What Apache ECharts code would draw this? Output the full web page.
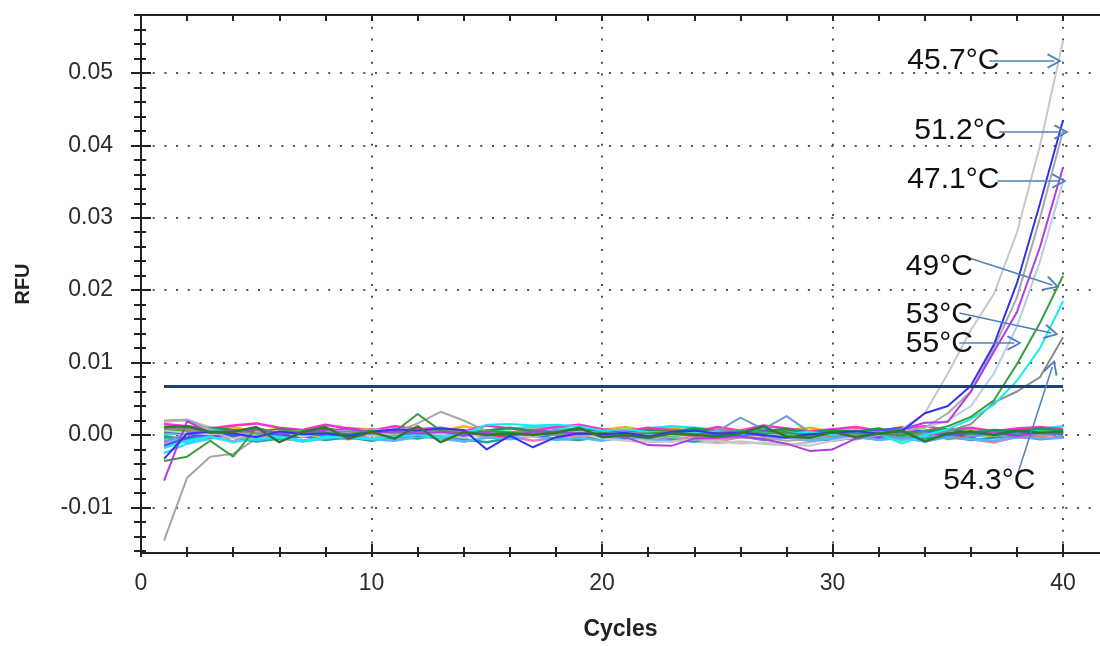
<!DOCTYPE html>
<html>
<head>
    <meta charset="UTF-8">
    <title>RFU - Cycles</title>
    <script src="https://cdn.jsdelivr.net/npm/echarts@6/dist/echarts.min.js"></script>
    <style>
        html, body { margin: 0; padding: 0; background: #fff; }
        #main { width: 1100px; height: 646px; }
    </style>
</head>
<body>
<div id="main"></div>
<script type="text/javascript">

    // x categories (cycle numbers)
    var cycles = [1, 2, 3, 4, 5, 6, 7, 8, 9, 10, 11, 12, 13, 14, 15, 16, 17, 18, 19, 20,
        21, 22, 23, 24, 25, 26, 27, 28, 29, 30, 31, 32, 33, 34, 35, 36, 37, 38, 39, 40];

    // axis tick labels
    var xMajorTicks = [0, 10, 20, 30, 40];
    var yMajorTicks = [-0.01, 0, 0.01, 0.02, 0.03, 0.04, 0.05];

    // threshold (RFU)
    var thresholdRFU = 0.0067;

    // curves, values in mRFU (1/1000 RFU)
    // amplifying wells
    var amp457 = [1.8, 2.0, 0.5, -0.5, 0.2, 0.6, -0.3, 0.5, 0.8, -0.2,
        0.4, 0.3, 0.1, -0.4, 0.2, 0.0, -0.3, 0.4, 0.2, -0.5,
        -0.8, -1.0, -0.9, -0.6, -0.8, -1.2, -1.0, -1.3, -1.5, -0.8,
        -0.3, 0.0, 0.8, 3.0, 8.5, 14.5, 19.5, 28.0, 40.0, 54.5];
    var ampGray = [2.0, 2.1, 0.8, -1.0, 0.5, 0.3, 0.6, 0.2, 0.4, 0.9,
        0.3, 1.6, 3.2, 2.0, 0.5, 0.2, 0.0, 0.4, -0.2, 0.3,
        0.1, -0.4, -0.3, -0.5, -0.6, -0.3, -0.4, -0.8, -0.6, 0.2,
        0.1, 0.3, 0.5, 1.0, 3.0, 6.0, 12.0, 19.0, 30.0, 42.0];
    var amp512 = [-3.3, 0.2, 0.4, 0.2, -0.3, 0.5, 0.1, 0.2, -0.1, 0.4,
        0.8, 0.6, 0.9, 0.7, -2.0, -0.1, -1.7, -0.3, 0.2, 0.1,
        0.3, -0.2, 0.4, 0.6, 0.2, 0.3, 0.0, -0.4, 0.1, 0.3,
        0.5, 0.2, 0.5, 3.0, 4.0, 6.8, 12.5, 21.0, 32.0, 43.5];
    var amp471 = [-6.3, 1.9, 0.3, 0.5, 0.8, 0.2, 0.4, 0.6, 0.9, 0.3,
        0.5, 0.2, 0.4, 0.1, 0.3, -0.2, 0.5, 0.4, 0.2, 0.1,
        -0.3, -1.4, -1.5, -0.5, -0.4, -0.2, -0.6, -1.2, -2.2, -2.0,
        -0.5, 0.2, 0.8, 1.7, 1.8, 6.0, 11.5, 17.0, 26.0, 37.0];
    var amp55 = [0.6, 0.3, 0.1, 0.4, 0.2, 0.5, 0.0, 0.3, 0.6, 0.2,
        0.1, 0.4, 0.3, 0.2, 0.5, 0.1, 0.3, 0.0, 0.4, 0.2,
        0.3, 0.1, 0.0, 0.2, 0.4, 0.3, 0.1, 0.2, -0.3, 0.1,
        0.4, 0.3, 0.6, 1.0, 2.0, 4.0, 8.5, 15.0, 24.0, 35.0];
    var amp49 = [-3.6, -3.0, -0.8, -3.0, 1.0, 0.2, 0.5, 0.3, 0.1, 0.6,
        0.4, 2.9, 0.6, 0.2, 0.5, 0.3, 0.1, 0.4, 0.2, 0.3,
        0.0, 0.2, 0.4, 0.1, 0.3, 0.5, 0.2, 0.3, 0.0, 0.4,
        0.2, 0.1, 0.0, 0.5, 1.2, 2.5, 4.8, 9.8, 15.5, 22.0];
    var amp53 = [-1.8, -0.8, -0.2, -1.0, -0.5, -0.3, -0.9, -0.2, -0.4, -0.6,
        -0.2, 0.0, -0.3, 0.2, 1.4, 1.5, 1.3, 1.4, 1.2, 0.6,
        0.8, 0.4, 0.3, 0.2, 0.5, 0.1, 0.3, 0.2, 0.4, 0.1,
        0.3, 0.2, -1.2, 0.0, 0.8, 2.2, 4.2, 7.5, 12.0, 18.5];
    var amp543 = [1.0, 0.8, 0.3, 0.5, 0.2, 0.4, 0.1, 0.3, 0.5, 0.6,
        0.2, 0.4, 0.8, 0.3, 0.1, 0.2, 0.4, 0.0, 0.3, 0.1,
        0.2, 0.4, 0.1, 0.3, 0.5, 0.6, 0.3, 0.2, -0.2, 0.1,
        0.3, 0.2, 0.1, 0.0, 0.5, 1.5, 4.5, 6.0, 8.0, 13.5];

    // baseline (non amplifying) wells
    var baseDarkGreen = [1.1, 1.2, 0.4, 0.4, 1.1, -1.0, 0.4, 1.1, -0.5, 0.4,
        -0.5, 1.2, -1.0, 0.4, 0.0, 0.2, 0.0, 0.3, 1.0, -0.3,
        0.0, -0.4, 0.2, 0.0, -0.2, 0.2, 1.2, -0.2, -0.4, 0.4,
        -0.3, 0.2, 0.6, -0.9, 0.2, 0.5, 0.0, 0.6, 0.3, 0.4];
    var baseRed = [0.9, 0.7, 0.3, 0.6, 0.4, 0.1, 0.5, -0.1, 0.3, 0.7,
        0.2, 0.0, -0.3, 0.5, 0.1, -0.2, 0.3, 0.6, 0.0, 0.2,
        -0.2, 0.3, 0.1, 0.5, 0.0, 0.2, 0.7, 0.3, -0.3, 0.1,
        0.4, 0.6, 0.9, 0.2, 0.3, -0.4, 0.6, 0.2, 0.5, 0.7];
    var baseLime = [0.3, 0.6, 0.9, 0.3, 0.7, 0.2, -0.2, 0.4, 0.8, 0.2,
        0.5, 0.1, 0.3, -0.1, 0.6, 0.4, 0.0, 0.7, 0.3, 0.2,
        0.6, 0.1, -0.2, 0.3, 0.7, 0.0, 0.2, 0.9, 0.4, 0.1,
        0.3, 0.6, 0.2, -0.3, 0.4, 0.1, 0.5, 0.3, 0.6, 0.2];
    var baseOrange = [-0.3, -0.6, 0.2, 0.0, 0.4, -0.5, 0.1, 0.3, -0.2, 0.5,
        0.0, -0.4, 0.2, 0.6, -0.1, 0.3, 0.8, 0.2, 0.0, 0.4,
        0.1, -0.3, 0.9, 0.5, 0.0, -0.2, 0.4, 0.6, 0.2, -0.1,
        0.5, 0.3, -0.4, 0.2, 0.0, -0.6, -1.0, 0.1, -0.2, 0.3];
    var baseYellow = [0.1, 0.4, -0.2, 0.3, 0.0, 0.5, 0.2, -0.3, 0.4, 0.1,
        0.6, 0.2, -0.1, 0.3, 0.5, 0.0, 0.2, 0.4, -0.2, 0.6,
        0.3, 0.0, 0.5, 0.2, -0.1, 0.4, 0.3, 0.1, 0.6, 0.0,
        0.2, 0.7, -0.5, 0.3, 0.1, 0.4, -0.3, 0.5, 0.2, 0.6];
    var baseMagenta = [1.5, 1.2, 0.9, 1.3, 1.6, 1.0, 0.7, 1.4, 0.9, 0.6,
        1.2, 0.8, 1.0, 0.5, 1.3, 0.9, 0.6, 1.1, 1.4, 0.8,
        0.5, 1.0, 0.7, 0.4, 1.1, 0.6, 1.3, 0.9, 0.5, 0.8,
        1.1, 0.6, 0.9, 1.2, 0.7, 1.0, 0.5, 0.9, 1.1, 0.8];
    var basePink = [-1.2, -0.6, -0.3, -0.9, 0.0, -0.5, -0.8, -0.2, -0.6, -0.1,
        -0.7, -0.3, -0.1, -0.9, -0.4, -0.2, -0.8, -0.4, 0.0, -0.7,
        -0.4, -0.1, -0.6, -0.2, -0.9, -0.3, -0.5, -0.1, -0.7, -0.2,
        -0.6, 0.0, -0.4, -0.8, -0.2, -0.5, -1.0, -0.3, -0.5, -0.2];
    var baseCyan = [-2.5, -1.2, -0.5, 0.0, 0.2, -0.1, -0.8, -0.4, 0.3, 0.1,
        -0.3, 0.2, 0.0, 0.4, 0.6, 0.9, 1.1, 1.0, 0.8, 0.5,
        0.3, 0.9, 1.2, 1.0, 0.7, 0.4, 0.6, 0.2, 0.0, 0.3,
        0.1, 0.4, 0.2, -0.2, 0.5, 0.3, 0.6, 0.4, 0.8, 1.2];
    var baseSteel = [-1.0, 0.3, 0.9, 0.2, -0.2, 0.5, 0.3, 0.1, 0.4, 0.6,
        0.2, 0.5, 0.0, 0.3, 0.1, 0.4, 0.2, 0.6, 0.3, 0.5,
        0.1, 0.4, 0.2, 0.3, 0.5, 2.4, 0.8, 2.6, 0.4, -0.3,
        0.1, 0.2, -0.5, 0.3, -0.6, -0.2, 0.0, -0.4, 0.1, 0.3];
    var baseTeal = [-0.2, -0.6, 0.0, -0.4, -0.9, -0.5, -0.1, -0.7, -0.3, -0.8,
        -0.2, -0.5, 0.1, -0.6, -1.0, -0.4, -0.1, -0.5, -0.7, -0.2,
        -0.5, 0.0, -0.6, -0.9, -0.3, -0.1, -0.7, -0.2, -0.5, -0.8,
        -0.3, -0.6, -0.1, -0.5, -0.2, -0.7, -0.4, 0.0, -0.6, -0.3];
    var baseRoyal = [-1.5, -0.4, 0.5, -0.2, 0.3, 0.1, -0.3, 0.4, 0.0, 0.2,
        0.5, -0.1, 0.3, 0.2, 0.0, 0.4, -0.2, 0.1, 0.3, 0.6,
        0.0, -0.3, 0.2, 0.4, 0.1, -0.1, 0.5, 0.2, 0.0, 0.3,
        0.1, 0.6, 1.0, 0.4, 0.2, 0.3, 0.0, 0.5, 0.2, 0.1];
    var baseViolet = [0.5, 0.2, -0.3, 0.1, 0.4, 0.6, 0.2, 0.0, -0.2, 0.3,
        0.1, 0.5, 0.2, -0.1, 0.3, 0.0, 0.4, 0.2, 0.6, 0.1,
        -0.2, 0.3, 0.0, 0.5, 0.2, 0.4, -0.1, 0.3, 0.1, 0.5,
        0.2, -0.3, 0.4, 0.1, 0.0, 0.3, 0.5, -0.2, 0.2, 0.4];
    var baseOlive = [0.7, 1.0, 0.2, 0.5, 0.9, 0.3, 0.6, 0.8, 0.1, 0.4,
        0.2, 0.6, 0.0, 0.5, 0.3, 0.1, 0.7, 0.4, 0.2, 0.5,
        0.6, 0.2, 0.4, 0.0, 0.3, 0.5, 0.9, 0.1, 0.2, 0.6,
        0.3, 0.0, 0.4, 0.2, 0.5, 0.1, 0.3, 0.7, 0.4, 0.6];
    var baseSalmon = [-0.8, -0.3, 0.0, 0.4, -0.2, 0.2, 0.5, -0.1, 0.3, 0.0,
        0.2, -0.4, 0.1, 0.3, 0.6, 0.0, -0.2, 0.4, 0.1, 0.3,
        -0.1, 0.2, 0.5, 0.8, 0.3, 0.0, 0.2, -0.3, 0.4, 0.1,
        0.0, 0.3, 0.2, 0.5, 0.1, -0.2, 0.4, 0.0, 0.3, 0.5];
    var baseTurq = [0.0, 0.3, 0.5, 0.2, 0.1, 0.4, 0.0, 0.6, 0.2, 0.3,
        0.5, 0.1, 0.4, 0.7, 0.2, 0.0, 0.3, 0.5, 0.1, 0.4,
        0.2, 0.5, 0.3, 0.6, 0.1, 0.2, 0.4, 0.0, 0.3, 0.2,
        0.5, 0.1, -0.8, 0.2, 0.4, 0.3, 0.1, 0.5, 0.3, 0.8];
    var baseGold = [0.2, 0.8, 0.5, 1.1, 0.4, 0.9, 0.6, 0.2, 1.0, 0.7,
        0.3, 0.9, 0.5, 1.2, 0.6, 0.3, 0.8, 1.0, 0.4, 0.7,
        1.1, 0.5, 0.8, 0.3, 0.9, 0.6, 0.2, 0.7, 1.0, 0.4,
        0.8, 0.5, 1.1, 0.3, 0.7, 0.9, 0.4, 0.6, 1.0, 0.8];
    var baseSky = [-0.6, -1.0, -0.4, -0.2, -0.7, -0.3, -0.9, -0.5, -0.1, -0.6,
        -0.8, -0.2, -0.5, -0.9, -0.3, -0.6, -0.1, -0.7, -0.4, -0.8,
        -0.2, -0.5, -0.9, -0.4, -0.7, -0.1, -0.6, -0.3, -0.8, -0.5,
        -0.2, -0.7, -0.4, -0.9, -0.3, -0.6, -0.8, -0.2, -0.5, -0.4];
    var baseForest = [0.6, 0.3, 1.0, 0.7, 0.2, 0.8, 0.5, 0.9, 0.4, 0.1,
        0.7, 0.4, 0.8, 0.2, 0.6, 1.0, 0.5, 0.3, 0.8, 0.6,
        0.2, 0.7, 0.4, 0.9, 0.5, 0.1, 0.6, 0.8, 0.3, 0.7,
        0.4, 0.9, 0.2, 0.6, 0.8, 0.3, 0.7, 0.5, 0.9, 0.6];
    var baseLightGray = [1.9, 2.1, 1.0, 0.0, 0.3, 0.5, 0.2, 0.8, 0.4, 0.1,
        0.6, 0.3, 0.2, 0.5, 0.1, 0.4, 0.0, 0.3, 0.2, 0.1,
        -0.4, -0.7, -0.8, -0.9, -1.1, -0.9, -1.2, -1.4, -1.0, -0.5,
        0.0, 0.3, 0.4, 0.5, 0.2, 0.3, 0.1, 0.4, 0.2, 0.3];
    var baseOutlierGray = [-14.6, -5.9, -3.0, -2.6, -0.5, 0.3, -0.2, 0.4, 0.1, 0.5,
        0.2, 0.0, 0.3, 0.1, -0.3, 0.2, 0.4, 0.0, 0.2, -0.1,
        0.3, 0.1, 0.0, 0.2, 0.4, -0.1, 0.2, 0.3, 0.0, 0.1,
        0.2, 0.4, 0.1, 0.3, 0.0, 0.2, 0.1, 0.3, 0.2, 0.4];

    // annotations: label text, label centre and arrow ends as [cycle, mRFU]
    var tempLabels = ['45.7°C', '51.2°C', '47.1°C', '49°C', '53°C', '55°C', '54.3°C'];
    var labelAt = [[35.24, 51.65], [35.54, 41.98], [35.24, 35.21], [34.63, 23.2], [34.63, 16.57], [34.63, 12.57], [36.8, -6.35]];
    var arrowFrom = [[36.8, 51.65], [37.23, 41.85], [37.15, 35.08], [35.93, 24.44], [35.5, 16.85], [35.5, 12.71], [37.97, -5.94]];
    var arrowTo = [[39.62, 51.65], [39.92, 41.85], [39.83, 35.08], [39.53, 20.71], [39.49, 14.09], [37.88, 12.71], [39.53, 9.39]];

    // drawing order (first drawn at the back) and line styles
    var curves = [
        [baseLightGray, '#c4c4c4', 2.5],
        [baseOutlierGray, '#a6a6a6', 2],
        [baseSalmon, '#ff7055', 2.5],
        [baseOrange, '#ff8c1a', 2.5],
        [baseYellow, '#e6d200', 2.5],
        [baseGold, '#ffb300', 2.5],
        [basePink, '#ff6fb0', 2.5],
        [baseRed, '#ff1a1a', 2.5],
        [baseOlive, '#7c9a2a', 2.5],
        [baseLime, '#1fd21f', 2.5],
        [baseTurq, '#39e0cf', 2.5],
        [baseTeal, '#1fa5a0', 2.5],
        [baseSky, '#58b4ff', 2.5],
        [baseCyan, '#28dcff', 2.5],
        [baseViolet, '#9a3cff', 2.5],
        [baseMagenta, '#ff2fd0', 2.5],
        [baseForest, '#1a9a4a', 2.5],
        [baseRoyal, '#3e5cff', 2.5],
        [baseSteel, '#6e9bd0', 2],
        [amp55, '#b8cbe6', 2],
        [amp457, '#c8c8c8', 2],
        [ampGray, '#a8a8a8', 2],
        [amp543, '#8c8c8c', 2],
        [amp53, '#14ecf2', 2],
        [amp49, '#3c9c3c', 2],
        [amp471, '#b43ce6', 2],
        [amp512, '#3434ee', 2],
        [baseDarkGreen, '#2d7a2d', 2.5]
    ];

    function toRFU(v) {
        return v / 1000;
    }

    var minorTicksY = [];
    for (var k = -8; k <= 29; k++) {
        minorTicksY.push(k * 2 / 1000);
    }
    var minorTicksX = [];
    for (var c = 0; c <= 40; c += 2) {
        minorTicksX.push(c);
    }

    var font = "'Liberation Sans', Arial, sans-serif";
    var yMin = -0.0163, yMax = 0.058;
    var xMax = 41.6;

    var series = curves.map(function (cv, i) {
        return {
            name: 'well' + i,
            type: 'line',
            data: cv[0].map(function (v, j) {
                return [cycles[j], toRFU(v)];
            }),
            showSymbol: false,
            silent: true,
            lineStyle: {color: cv[1], width: cv[2]},
            itemStyle: {color: cv[1]},
            z: 2
        };
    });

    series.push({
        name: 'threshold',
        type: 'line',
        data: [[cycles[0], thresholdRFU], [cycles[cycles.length - 1], thresholdRFU]],
        showSymbol: false,
        silent: true,
        lineStyle: {color: '#1b4178', width: 3},
        z: 3
    });

    var arrowHead = 'path://M50,0 L100,80 L90,88 L50,22 L10,88 L0,80 Z';
    series.push({
        name: 'notes',
        type: 'line',
        data: [],
        silent: true,
        z: 4,
        markLine: {
            silent: true,
            animation: false,
            symbol: ['none', arrowHead],
            symbolSize: 15,
            label: {show: false},
            lineStyle: {color: '#4f81bd', width: 1.5, type: 'solid'},
            itemStyle: {color: '#4f81bd'},
            emphasis: {disabled: true},
            data: arrowFrom.map(function (p, i) {
                return [
                    {coord: [p[0], toRFU(p[1])]},
                    {coord: [arrowTo[i][0], toRFU(arrowTo[i][1])]}
                ];
            })
        },
        markPoint: {
            silent: true,
            animation: false,
            symbol: 'rect',
            symbolSize: 1,
            itemStyle: {color: 'rgba(0,0,0,0)'},
            label: {
                show: true,
                position: 'inside',
                color: '#111',
                fontSize: 30,
                fontFamily: font,
                formatter: function (p) {
                    return p.name;
                }
            },
            data: tempLabels.map(function (t, i) {
                return {name: t, coord: [labelAt[i][0], toRFU(labelAt[i][1])]};
            })
        }
    });

    var dotted = {color: '#555', width: 2, type: [2, 9.7]};

    var option = {
        animation: false,
        backgroundColor: '#fff',
        grid: {left: 141, right: 0, top: 15, bottom: 93},
        xAxis: [
            {
                type: 'value', min: 0, max: xMax, position: 'bottom',
                name: 'Cycles', nameLocation: 'middle', nameGap: 65,
                nameTextStyle: {fontSize: 23, fontWeight: 'bold', color: '#222', fontFamily: font},
                axisLine: {show: true, onZero: false, lineStyle: {color: '#222', width: 2}},
                axisTick: {show: true, inside: true, length: 9, customValues: xMajorTicks, lineStyle: {color: '#222', width: 2}},
                axisLabel: {customValues: xMajorTicks, fontSize: 23, color: '#2b2b2b', margin: 19, fontFamily: font},
                splitLine: {show: true, lineStyle: dotted}
            },
            {
                type: 'value', min: 0, max: xMax, position: 'bottom',
                axisLine: {show: false, onZero: false},
                axisTick: {show: true, inside: true, length: 6, customValues: minorTicksX, lineStyle: {color: '#222', width: 2}},
                axisLabel: {show: false}, splitLine: {show: false}
            },
            {
                type: 'value', min: 0, max: xMax, position: 'bottom',
                axisLine: {show: false, onZero: false},
                axisTick: {show: true, inside: false, length: 4, customValues: minorTicksX, lineStyle: {color: '#222', width: 2}},
                axisLabel: {show: false}, splitLine: {show: false}
            },
            {
                type: 'value', min: 0, max: xMax, position: 'top',
                axisLine: {show: true, onZero: false, lineStyle: {color: '#222', width: 2}},
                axisTick: {show: true, inside: true, length: 6, customValues: minorTicksX, lineStyle: {color: '#222', width: 2}},
                axisLabel: {show: false}, splitLine: {show: false}
            }
        ],
        yAxis: [
            {
                type: 'value', min: yMin, max: yMax, position: 'left',
                name: 'RFU', nameLocation: 'middle', nameGap: 108, nameRotate: 90,
                nameTextStyle: {fontSize: 20, fontWeight: 'bold', color: '#222', fontFamily: font},
                axisLine: {show: true, onZero: false, lineStyle: {color: '#222', width: 2}},
                axisTick: {show: true, inside: false, length: 10, customValues: yMajorTicks, lineStyle: {color: '#222', width: 2}},
                axisLabel: {
                    customValues: yMajorTicks, fontSize: 23, color: '#2b2b2b', margin: 28, fontFamily: font,
                    formatter: function (v) {
                        return v.toFixed(2);
                    }
                },
                splitLine: {show: true, lineStyle: dotted}
            },
            {
                type: 'value', min: yMin, max: yMax, position: 'left',
                axisLine: {show: false, onZero: false},
                axisTick: {show: true, inside: true, length: 10, customValues: yMajorTicks, lineStyle: {color: '#222', width: 2}},
                axisLabel: {show: false}, splitLine: {show: false}
            },
            {
                type: 'value', min: yMin, max: yMax, position: 'left',
                axisLine: {show: false, onZero: false},
                axisTick: {show: true, inside: false, length: 7, customValues: minorTicksY, lineStyle: {color: '#222', width: 2}},
                axisLabel: {show: false}, splitLine: {show: false}
            },
            {
                type: 'value', min: yMin, max: yMax, position: 'left',
                axisLine: {show: false, onZero: false},
                axisTick: {show: true, inside: true, length: 5, customValues: minorTicksY, lineStyle: {color: '#222', width: 2}},
                axisLabel: {show: false}, splitLine: {show: false}
            }
        ],
        series: series
    };

    var myChart = echarts.init(document.getElementById('main'), null, {renderer: 'canvas'});
    myChart.setOption(option);

</script>
</body>
</html>
